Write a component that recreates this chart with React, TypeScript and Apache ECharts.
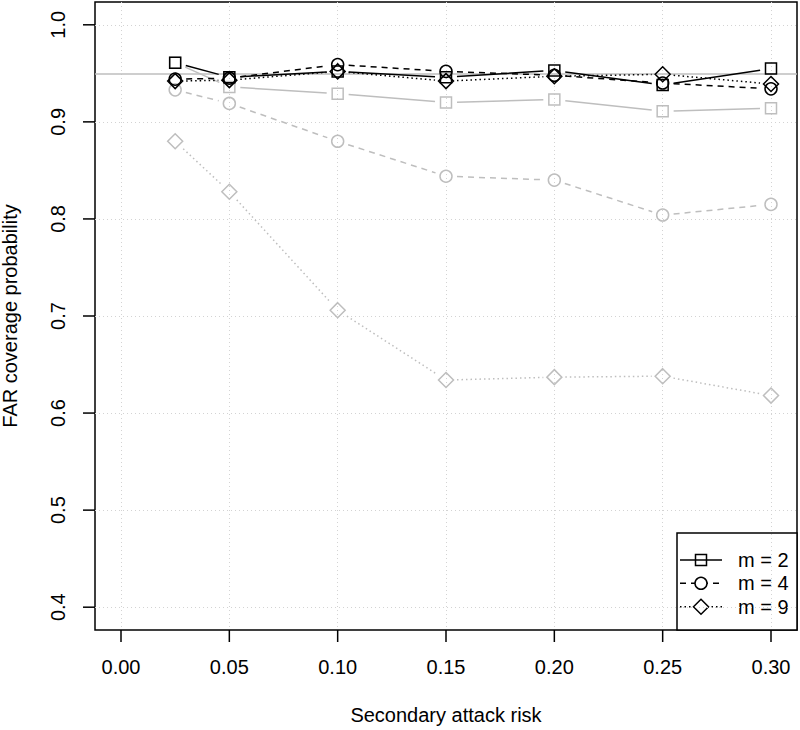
import React, { useEffect, useRef } from "react";
import * as echarts from "echarts";

const xValues = [0.025, 0.05, 0.1, 0.15, 0.2, 0.25, 0.3];

const blackM2 = [0.961, 0.946, 0.952, 0.946, 0.953, 0.938, 0.955];
const blackM4 = [0.944, 0.945, 0.959, 0.952, 0.948, 0.94, 0.934];
const blackM9 = [0.942, 0.943, 0.952, 0.942, 0.947, 0.949, 0.939];

const greyM2 = [0.961, 0.936, 0.929, 0.92, 0.923, 0.911, 0.914];
const greyM4 = [0.933, 0.919, 0.88, 0.844, 0.84, 0.804, 0.815];
const greyM9 = [0.88, 0.828, 0.706, 0.634, 0.637, 0.638, 0.618];

const xTicks = [0, 0.05, 0.1, 0.15, 0.2, 0.25, 0.3];
const yTicks = [0.4, 0.5, 0.6, 0.7, 0.8, 0.9, 1.0];
const xMin = -0.012;
const xMax = 0.312;
const yMin = 0.3765;
const yMax = 1.0235;
const referenceLevel = 0.95;
const legendLabels = ["m = 2", "m = 4", "m = 9"];

const FONT = '"Liberation Sans", Arial, Helvetica, sans-serif';
const BLACK = "#000000";
const GREY = "#bebebe";
const GAP = 11;
const TICK = 12;

type Spec = {
  name: string;
  values: number[];
  color: string;
  dash: number[] | null;
  symbol: string;
  size: number;
};

const specs: Spec[] = [
  { name: "grey m = 2", values: greyM2, color: GREY, dash: null, symbol: "rect", size: 11 },
  { name: "grey m = 4", values: greyM4, color: GREY, dash: [6, 5], symbol: "circle", size: 12 },
  { name: "grey m = 9", values: greyM9, color: GREY, dash: [1.5, 3], symbol: "diamond", size: 15 },
  { name: "m = 2", values: blackM2, color: BLACK, dash: null, symbol: "rect", size: 11 },
  { name: "m = 4", values: blackM4, color: BLACK, dash: [6, 5], symbol: "circle", size: 12 },
  { name: "m = 9", values: blackM9, color: BLACK, dash: [1.5, 3], symbol: "diamond", size: 15 },
];

function buildSeries() {
  const out: any[] = [];
  specs.forEach((s, idx) => {
    const segs: number[][] = [];
    for (let i = 0; i < xValues.length - 1; i++) {
      segs.push([xValues[i], s.values[i], xValues[i + 1], s.values[i + 1]]);
    }
    out.push({
      type: "custom",
      name: s.name + " line",
      data: segs,
      encode: { x: [0, 2], y: [1, 3] },
      silent: true,
      z: 2 + idx,
      renderItem: (_params: any, api: any) => {
        const p1 = api.coord([api.value(0), api.value(1)]);
        const p2 = api.coord([api.value(2), api.value(3)]);
        const dx = p2[0] - p1[0];
        const dy = p2[1] - p1[1];
        const len = Math.hypot(dx, dy);
        if (len <= 2 * GAP) return null;
        const ux = dx / len;
        const uy = dy / len;
        return {
          type: "line",
          shape: {
            x1: p1[0] + ux * GAP,
            y1: p1[1] + uy * GAP,
            x2: p2[0] - ux * GAP,
            y2: p2[1] - uy * GAP,
          },
          style: {
            stroke: s.color,
            lineWidth: 1.5,
            lineDash: s.dash || undefined,
          },
        };
      },
    });
    const scatter: any = {
      type: "scatter",
      name: s.name,
      data: xValues.map((x, i) => [x, s.values[i]]),
      symbol: s.symbol,
      symbolSize: s.size,
      z: 2 + idx,
      itemStyle: {
        color: "rgba(0,0,0,0)",
        borderColor: s.color,
        borderWidth: 1.5,
        opacity: 1,
      },
      emphasis: { disabled: true },
    };
    if (idx === 0) {
      scatter.markLine = {
        silent: true,
        symbol: ["none", "none"],
        label: { show: false },
        lineStyle: { color: GREY, width: 1.5, type: "solid" },
        data: [{ yAxis: referenceLevel }],
      };
    }
    out.push(scatter);
  });
  return out;
}

function buildLegend() {
  const left = 677;
  const top = 533;
  const right = 797;
  const bottom = 630;
  const rows = [560, 583.3, 606.7];
  const children: any[] = [
    {
      type: "rect",
      shape: { x: left, y: top, width: right - left, height: bottom - top },
      style: { fill: "#ffffff", stroke: BLACK, lineWidth: 1.5 },
    },
  ];
  const blackSpecs = specs.slice(3);
  blackSpecs.forEach((s, i) => {
    const cy = rows[i];
    const cx = 701;
    children.push({
      type: "line",
      shape: { x1: 680, y1: cy, x2: 722, y2: cy },
      style: { stroke: BLACK, lineWidth: 1.5, lineDash: s.dash || undefined },
    });
    if (s.symbol === "rect") {
      children.push({
        type: "rect",
        shape: { x: cx - 5.5, y: cy - 5.5, width: 11, height: 11 },
        style: { fill: "#ffffff", stroke: BLACK, lineWidth: 1.5 },
      });
      children.push({
        type: "line",
        shape: { x1: cx - 5.5, y1: cy, x2: cx + 5.5, y2: cy },
        style: { stroke: BLACK, lineWidth: 1.5 },
      });
    } else if (s.symbol === "circle") {
      children.push({
        type: "circle",
        shape: { cx, cy, r: 6 },
        style: { fill: "#ffffff", stroke: BLACK, lineWidth: 1.5 },
      });
    } else {
      children.push({
        type: "polygon",
        shape: {
          points: [
            [cx, cy - 7.5],
            [cx + 7.5, cy],
            [cx, cy + 7.5],
            [cx - 7.5, cy],
          ],
        },
        style: { fill: "#ffffff", stroke: BLACK, lineWidth: 1.5 },
      });
    }
    children.push({
      type: "text",
      x: 738,
      y: cy,
      style: {
        text: legendLabels[i],
        fill: BLACK,
        font: `20px ${FONT}`,
        verticalAlign: "middle",
        align: "left",
      },
    });
  });
  return { type: "group", id: "legend", z: 100, silent: true, children };
}

function buildTicks(chart: any) {
  const children: any[] = [];
  xTicks.forEach((x) => {
    const p = chart.convertToPixel({ gridIndex: 0 }, [x, yMin]);
    children.push({
      type: "line",
      shape: { x1: p[0], y1: p[1], x2: p[0], y2: p[1] + TICK },
      style: { stroke: BLACK, lineWidth: 1.5 },
    });
  });
  yTicks.forEach((y) => {
    const p = chart.convertToPixel({ gridIndex: 0 }, [xMin, y]);
    children.push({
      type: "line",
      shape: { x1: p[0], y1: p[1], x2: p[0] - TICK, y2: p[1] },
      style: { stroke: BLACK, lineWidth: 1.5 },
    });
  });
  return { type: "group", id: "ticks", z: 90, silent: true, children };
}

export default function App() {
  const ref = useRef<HTMLDivElement>(null);
  useEffect(() => {
    if (!ref.current) return;
    const chart = echarts.init(ref.current, null, { renderer: "svg" });
    chart.setOption({
      animation: false,
      backgroundColor: "#ffffff",
      textStyle: { fontFamily: FONT },
      grid: {
        left: 95,
        right: 3,
        top: 2,
        bottom: 100,
        show: true,
        borderColor: BLACK,
        borderWidth: 1.5,
        containLabel: false,
        outerBoundsMode: "none",
      },
      xAxis: {
        type: "value",
        min: xMin,
        max: xMax,
        position: "bottom",
        name: "Secondary attack risk",
        nameLocation: "middle",
        nameGap: 75,
        nameTextStyle: { fontSize: 20, color: BLACK, fontFamily: FONT },
        axisLine: { show: false },
        axisTick: { show: false, customValues: xTicks },
        axisLabel: {
          customValues: xTicks,
          formatter: (v: number) => v.toFixed(2),
          fontSize: 20,
          color: BLACK,
          margin: 27,
          fontFamily: FONT,
        },
        splitLine: {
          show: true,
          lineStyle: { color: "#d3d3d3", width: 1, type: [1, 3] },
        },
      },
      yAxis: {
        type: "value",
        min: yMin,
        max: yMax,
        position: "left",
        name: "FAR coverage probability",
        nameLocation: "middle",
        nameGap: 75,
        nameTextStyle: { fontSize: 20, color: BLACK, fontFamily: FONT },
        axisLine: { show: false },
        axisTick: { show: false, customValues: yTicks },
        axisLabel: {
          customValues: yTicks,
          formatter: (v: number) => v.toFixed(1),
          fontSize: 20,
          color: BLACK,
          margin: 27,
          rotate: 90,
          fontFamily: FONT,
        },
        splitLine: {
          show: true,
          lineStyle: { color: "#d3d3d3", width: 1, type: [1, 3] },
        },
      },
      series: buildSeries(),
      graphic: [buildLegend()],
    });
    chart.setOption({ graphic: [buildLegend(), buildTicks(chart)] });
    return () => chart.dispose();
  }, []);
  return (
    <div
      ref={ref}
      style={{ position: "absolute", left: 0, top: 0, width: 800, height: 730 }}
    />
  );
}
